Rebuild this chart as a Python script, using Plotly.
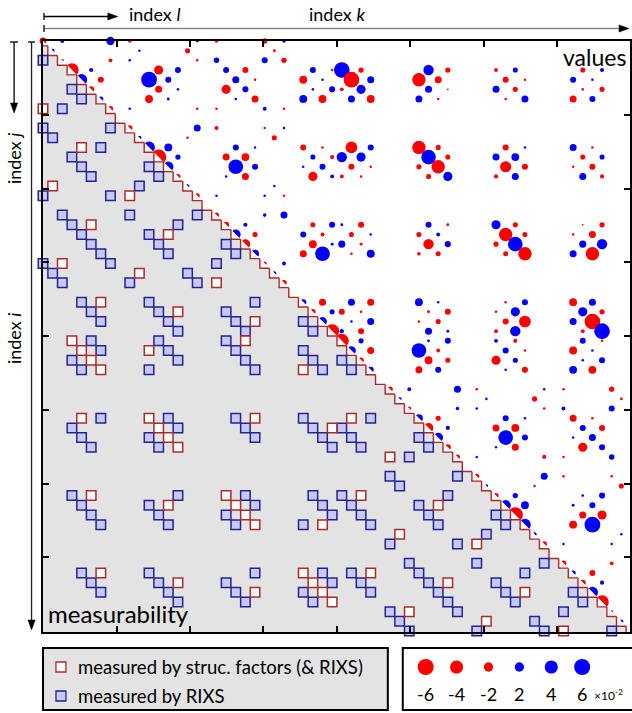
import plotly.graph_objects as go
import math

FONT = "Lato"
N_LAST = 61  # matrix indices run 0..61

# ---------- upper triangle values: (row, col, value in units of 1e-2) ----------
# indices 0..30 amongst themselves
circles_first_half = [
    (0, 0, -1.1), (0, 2, 0.4), (0, 7, 1.6), (0, 9, -0.3), (0, 16, 0.2), (0, 18, -0.3), (0, 23, -0.65), (0, 25, 0.3),
    (1, 1, 0.35), (1, 10, 0.15), (1, 15, -0.6), (1, 24, -0.2),
    (2, 2, -0.2), (2, 7, -0.35), (2, 9, 0.15), (2, 16, -0.15), (2, 18, 0.7), (2, 23, 0.85), (2, 25, -0.65),
    (3, 3, -4.2), (3, 5, 0.4), (3, 12, -1.95), (3, 14, 0.85), (3, 19, 0.85), (3, 21, -0.85), (3, 28, 0.85), (3, 30, -0.15),
    (4, 4, 2.9), (4, 6, -0.85), (4, 11, 5.8), (4, 13, 0.85), (4, 20, 1.15), (4, 22, -0.15), (4, 27, -1.45), (4, 29, 0.15),
    (5, 5, -0.85), (5, 12, -1.15), (5, 14, 0.15), (5, 19, -1.95), (5, 21, 0.85), (5, 28, 0.15), (5, 30, 0.85),
    (6, 6, 0.6), (6, 11, -1.45), (6, 13, 0.2), (6, 20, 0.15), (6, 22, -1.15), (6, 27, 1.45), (6, 29, -1.45),
    (7, 7, -0.7), (7, 9, 0.15), (7, 16, -0.15), (7, 18, -0.15), (7, 23, 0.35), (7, 25, -0.15),
    (9, 9, -0.7), (9, 16, 1.15), (9, 18, -0.4), (9, 23, -0.15), (9, 25, 0.15),
    (10, 10, 0.4), (10, 15, -0.15), (10, 24, -0.6),
    (11, 11, 3.2), (11, 13, 1.45), (11, 20, 0.85), (11, 22, 0.15), (11, 27, -0.85), (11, 29, -0.15),
    (12, 12, -5.4), (12, 14, 0.65), (12, 19, -1.15), (12, 21, -1.45), (12, 28, 0.6), (12, 30, -0.4),
    (13, 13, 2.5), (13, 20, 5.0), (13, 22, 0.85), (13, 27, 0.15), (13, 29, 0.85),
    (14, 14, -0.6), (14, 19, 0.15), (14, 21, -1.15), (14, 28, -1.95), (14, 30, 0.35),
    (15, 15, 0.3), (15, 24, 0.15),
    (16, 16, -0.6), (16, 18, 0.15), (16, 23, 0.15), (16, 25, -0.15),
    (18, 18, -0.6), (18, 23, 0.3), (18, 25, 1.15),
    (19, 19, -0.85), (19, 21, 0.4), (19, 28, -0.6), (19, 30, 0.85),
    (20, 20, 2.2), (20, 22, -0.6), (20, 27, 0.85), (20, 29, -0.35),
    (21, 21, -2.2), (21, 28, -1.45), (21, 30, 0.2),
    (22, 22, 1.45), (22, 27, -1.15), (22, 29, 5.0),
    (23, 23, -0.35), (23, 25, 0.35), (24, 24, 0.35), (25, 25, -0.7),
    (27, 27, 0.85), (27, 29, -1.15), (28, 28, -0.7), (28, 30, 0.6), (29, 29, 1.8), (30, 30, -4.6),
]
# indices 31..61 amongst themselves
circles_second_half = [
    (61, 61, -1.1), (59, 61, 0.4), (54, 61, 1.6), (52, 61, -0.3), (45, 61, 0.2), (43, 61, -0.3), (38, 61, -0.65), (36, 61, 0.3),
    (60, 60, 0.35), (51, 60, 0.15), (46, 60, -0.6), (37, 60, -0.2),
    (59, 59, -0.2), (54, 59, -0.35), (52, 59, 0.15), (45, 59, -0.15), (43, 59, 0.7), (38, 59, 0.85), (36, 59, -0.65),
    (58, 58, -4.2), (56, 58, 0.4), (49, 58, -1.95), (47, 58, 0.85), (42, 58, 0.85), (40, 58, -0.85), (33, 58, 0.85), (31, 58, -0.15),
    (57, 57, 2.9), (55, 57, -0.85), (50, 57, 5.8), (48, 57, 0.85), (41, 57, 1.15), (39, 57, -0.15), (34, 57, -1.45), (32, 57, 0.15),
    (56, 56, -0.85), (49, 56, -1.15), (47, 56, 0.15), (42, 56, -1.95), (40, 56, 0.85), (33, 56, 0.15), (31, 56, 0.85),
    (55, 55, 0.6), (50, 55, -1.45), (48, 55, 0.2), (41, 55, 0.15), (39, 55, -1.15), (34, 55, 1.45), (32, 55, -1.45),
    (54, 54, -0.7), (52, 54, 0.15), (45, 54, -0.15), (43, 54, -0.15), (38, 54, 0.35), (36, 54, -0.15),
    (52, 52, -0.7), (45, 52, 1.15), (43, 52, -0.4), (38, 52, -0.15), (36, 52, 0.15),
    (51, 51, 0.4), (46, 51, -0.15), (37, 51, -0.6),
    (50, 50, 3.2), (48, 50, 1.45), (41, 50, 0.85), (39, 50, 0.15), (34, 50, -0.85), (32, 50, -0.15),
    (49, 49, -5.4), (47, 49, 0.65), (42, 49, -1.15), (40, 49, -1.45), (33, 49, 0.6), (31, 49, -0.4),
    (48, 48, 2.5), (41, 48, 5.0), (39, 48, 0.85), (34, 48, 0.15), (32, 48, 0.85),
    (47, 47, -0.6), (42, 47, 0.15), (40, 47, -1.15), (33, 47, -1.95), (31, 47, 0.35),
    (46, 46, 0.3), (37, 46, 0.15),
    (45, 45, -0.6), (43, 45, 0.15), (38, 45, 0.15), (36, 45, -0.15),
    (43, 43, -0.6), (38, 43, 0.3), (36, 43, 1.15),
    (42, 42, -0.85), (40, 42, 0.4), (33, 42, -0.6), (31, 42, 0.85),
    (41, 41, 2.2), (39, 41, -0.6), (34, 41, 0.85), (32, 41, -0.35),
    (40, 40, -2.2), (33, 40, -1.45), (31, 40, 0.2),
    (39, 39, 1.45), (34, 39, -1.15), (32, 39, 5.0),
    (38, 38, -0.35), (36, 38, 0.35), (37, 37, 0.35), (36, 36, -0.7),
    (34, 34, 0.85), (32, 34, -1.15), (33, 33, -0.7), (31, 33, 0.6), (32, 32, 1.8), (31, 31, -4.6),
]
# rows 0..30 against columns 31..61
circles_cross = [
    (3, 31, 5.7), (3, 33, -0.65), (4, 32, -5.7), (4, 34, 1.15), (5, 31, -0.35), (5, 33, 1.95), (6, 32, 1.15), (6, 34, -1.45),
    (3, 40, 2.5), (3, 42, -0.65), (4, 39, -4.2), (4, 41, -1.15), (5, 40, 1.15), (5, 42, -0.07), (6, 39, 1.15), (6, 41, -0.15),
    (3, 47, -0.35), (3, 49, 0.6), (4, 48, -0.85), (4, 50, -0.15), (5, 47, 1.15), (5, 49, -0.6), (6, 48, -0.15), (6, 50, 1.15),
    (3, 56, -0.6), (3, 58, 0.4), (4, 55, 0.85), (4, 57, 0.15), (5, 56, -0.15), (5, 58, -0.6), (6, 55, -1.15), (6, 57, 0.85),
    (11, 32, -3.2), (11, 34, 0.85), (12, 31, 2.5), (12, 33, 1.95), (13, 32, -0.85), (13, 34, -0.15), (14, 31, -0.35), (14, 33, -0.15),
    (11, 39, -4.2), (11, 41, -0.6), (12, 40, 5.0), (12, 42, -0.6), (13, 39, -0.6), (13, 41, -4.2), (14, 40, -0.6), (14, 42, 1.95),
    (11, 48, -0.85), (11, 50, 0.15), (12, 47, 1.15), (12, 49, 1.45), (13, 48, -2.9), (13, 50, -0.85), (14, 47, -0.4), (14, 49, 1.15),
    (11, 55, 1.15), (11, 57, -0.15), (12, 56, -0.6), (12, 58, 0.6), (13, 55, -0.15), (13, 57, -0.85), (14, 56, 1.15), (14, 58, -0.4),
    (19, 31, 0.2), (19, 33, -0.85), (20, 32, -0.6), (20, 34, 0.15), (21, 31, 1.15), (21, 33, -0.2), (22, 32, -0.15), (22, 34, 1.45),
    (19, 40, 0.85), (19, 42, -0.2), (20, 39, -0.6), (20, 41, 0.35), (21, 40, -2.5), (21, 42, 0.85), (22, 39, -0.3), (22, 41, -0.6),
    (19, 47, 1.95), (19, 49, -0.6), (20, 48, -4.2), (20, 50, -0.6), (21, 47, -0.6), (21, 49, 5.0), (22, 48, -0.6), (22, 50, -4.2),
    (19, 56, -0.07), (19, 58, -0.65), (20, 55, -0.15), (20, 57, -1.15), (21, 56, 1.15), (21, 58, 2.5), (22, 55, 1.15), (22, 57, -4.2),
    (27, 32, 1.15), (27, 34, -1.15), (28, 31, -0.85), (28, 33, -0.15), (29, 32, 0.15), (29, 34, 1.15), (30, 31, 0.4), (30, 33, -0.85),
    (27, 39, 1.45), (27, 41, 0.15), (28, 40, -0.2), (28, 42, -0.85), (29, 39, -0.15), (29, 41, -0.6), (30, 40, 1.15), (30, 42, 0.2),
    (27, 48, -0.15), (27, 50, 0.85), (28, 47, -0.15), (28, 49, 1.95), (29, 48, -0.85), (29, 50, -3.2), (30, 47, -0.35), (30, 49, 2.5),
    (27, 55, -1.45), (27, 57, 1.15), (28, 56, 1.95), (28, 58, -0.65), (29, 55, 1.15), (29, 57, -5.7), (30, 56, -0.35), (30, 58, 5.7),
]

# ---------- lower triangle: measurability (row, col) ----------
sf_squares = [  # measured by structure factors (& RIXS)
    (7, 0), (16, 9), (23, 2), (25, 18), (15, 1), (24, 10), (11, 4), (19, 5), (20, 13), (27, 6), (28, 14), (29, 22),
    (61, 54), (52, 45), (59, 38), (43, 36), (60, 46), (51, 37), (57, 50), (56, 42), (48, 41), (55, 34), (47, 33), (39, 32),
    (31, 3), (32, 4), (33, 5), (34, 6), (32, 11), (31, 21), (34, 27), (39, 4), (39, 11), (40, 12), (41, 13), (42, 14),
    (39, 22), (40, 30), (47, 5), (48, 13), (47, 19), (48, 20), (49, 21), (50, 22), (50, 29), (55, 6), (56, 14), (57, 22),
    (58, 30), (57, 29), (56, 28), (55, 27),
]
rixs_squares = [  # measured by RIXS
    (2, 0), (7, 2), (9, 0), (9, 7), (16, 0), (16, 7), (18, 2), (18, 9), (18, 16), (23, 0), (23, 7), (23, 18),
    (25, 2), (25, 9), (25, 16), (10, 1), (15, 10), (24, 1), (24, 15),
    (5, 3), (6, 4), (13, 11), (14, 12), (21, 19), (22, 20), (29, 27), (30, 28),
    (11, 6), (12, 3), (13, 4), (14, 5), (19, 3), (20, 4), (21, 5), (22, 6), (19, 14), (20, 11), (21, 12), (22, 13),
    (27, 4), (28, 5), (29, 6), (27, 11), (28, 12), (29, 13), (30, 14), (27, 22), (28, 19), (29, 20), (30, 21),
    (61, 59), (59, 54), (61, 52), (54, 52), (61, 45), (54, 45), (59, 43), (52, 43), (45, 43), (61, 38), (54, 38),
    (43, 38), (59, 36), (52, 36), (45, 36), (60, 51), (51, 46), (60, 37), (46, 37),
    (58, 56), (57, 55), (50, 48), (49, 47), (42, 40), (41, 39), (34, 32), (33, 31),
    (55, 50), (58, 49), (57, 48), (56, 47), (58, 42), (57, 41), (56, 40), (55, 39), (47, 42), (50, 41), (49, 40), (48, 39),
    (57, 34), (56, 33), (55, 32), (50, 34), (49, 33), (48, 32), (47, 31), (39, 34), (42, 33), (41, 32), (40, 31),
    (31, 5), (32, 6), (33, 3), (34, 4), (31, 12), (32, 13), (33, 14), (34, 11), (31, 19), (32, 20), (33, 21), (34, 22),
    (32, 27), (33, 28), (34, 29), (39, 6), (40, 3), (41, 4), (42, 5), (39, 13), (40, 14), (41, 11), (42, 12),
    (39, 20), (40, 21), (41, 22), (42, 30), (41, 29), (40, 28), (39, 27),
    (47, 3), (48, 4), (49, 5), (50, 6), (47, 14), (48, 11), (49, 12), (50, 13), (47, 21), (48, 22), (49, 19), (50, 20),
    (49, 30), (48, 29), (47, 28), (50, 27), (55, 4), (56, 5), (57, 6), (55, 11), (56, 12), (57, 13), (58, 14),
    (55, 22), (58, 21), (57, 20), (56, 19), (56, 30), (55, 29), (58, 28), (57, 27),
]
legend_values = [-6, -4, -2, 2, 4, 6]

RED = "#ff0000"
BLUE = "#0000ff"
SF_LINE = "#ad2a2a"
RIXS_LINE = "#24248e"
RIXS_FILL = "#c8c8f6"
GRAY = "#e3e3e3"


def diam(v):
    return 6.55 * math.sqrt(abs(v))


circles = circles_first_half + circles_second_half + circles_cross
fig = go.Figure()
fig.add_trace(go.Scatter(
    x=[c for r, c, v in circles], y=[r for r, c, v in circles], mode="markers", cliponaxis=False,
    marker=dict(size=[diam(v) for r, c, v in circles], opacity=1,
                color=[RED if v < 0 else BLUE for r, c, v in circles], line=dict(width=0)),
    hoverinfo="skip"))

# gray lower triangle
fig.add_trace(go.Scatter(x=[0, 0, 62, 0], y=[0, 62, 62, 0], mode="lines", fill="toself",
                         fillcolor=GRAY, line=dict(width=0), hoverinfo="skip"))

# diagonal half cells
dx, dy = [], []
for i in range(N_LAST + 1):
    dx += [i - 0.5, i - 0.5, i + 0.5, None]
    dy += [i - 0.5, i + 0.5, i + 0.5, None]
fig.add_trace(go.Scatter(x=dx, y=dy, mode="lines", fill="toself", fillcolor="white",
                         line=dict(color=SF_LINE, width=1.4), cliponaxis=False, hoverinfo="skip"))

fig.add_trace(go.Scatter(x=[c for r, c in rixs_squares], y=[r for r, c in rixs_squares], mode="markers",
                         cliponaxis=False, hoverinfo="skip",
                         marker=dict(symbol="square", size=9.5, color=RIXS_FILL, opacity=1,
                                     line=dict(color=RIXS_LINE, width=1.5))))
fig.add_trace(go.Scatter(x=[c for r, c in sf_squares], y=[r for r, c in sf_squares], mode="markers",
                         cliponaxis=False, hoverinfo="skip",
                         marker=dict(symbol="square", size=9.5, color="white", opacity=1,
                                     line=dict(color=SF_LINE, width=1.5))))

ticks = [N_LAST / 8 * k for k in range(9)]
axis_common = dict(showline=True, linecolor="black", linewidth=2, mirror="ticks", ticks="inside",
                   ticklen=6, tickwidth=2, tickcolor="black", tickvals=ticks, showticklabels=False,
                   showgrid=False, zeroline=False, layer="above traces")
fig.update_xaxes(range=[0, 60.9], **axis_common)
fig.update_yaxes(range=[61.1, 0], **axis_common)

L, R, T, B = 43, 632, 41, 632


def px(x):
    return (x - L) / (R - L)


def py(y):
    return (B - y) / (B - T)


shapes = []
annotations = []


def line(x0, y0, x1, y1, color="black", w=1.3):
    shapes.append(dict(type="line", xref="paper", yref="paper", x0=px(x0), x1=px(x1), y0=py(y0), y1=py(y1),
                       line=dict(color=color, width=w)))


def head(xh, yh, direction, color="black", ln=10, hw=3.6):
    if direction == "right":
        pts = [(xh, yh), (xh - ln, yh - hw), (xh - ln, yh + hw)]
    else:  # down
        pts = [(xh, yh), (xh - hw, yh - ln), (xh + hw, yh - ln)]
    path = "M " + " L ".join(f"{px(a):.5f},{py(b):.5f}" for a, b in pts) + " Z"
    shapes.append(dict(type="path", xref="paper", yref="paper", path=path, fillcolor=color,
                       line=dict(color=color, width=0.5)))


# top arrows
line(44, 16.5, 112, 16.5)
head(118, 16.5, "right")
line(44, 13, 44, 20)
line(44, 28.5, 624, 28.5, color="#8a8a8a", w=1.6)
head(631, 28.5, "right")
line(44, 25, 44, 32)
# left arrows
line(14, 42, 14, 106)
head(14, 113, "down")
line(10, 42, 18, 42)
line(31.5, 42, 31.5, 623, color="#222222")
head(31.5, 630, "down")
line(28, 42, 35, 42)

txt = dict(family=FONT, color="black")


def text(x, y, s, size, xanchor="center", angle=0):
    annotations.append(dict(x=px(x), y=py(y), xref="paper", yref="paper", xanchor=xanchor, yanchor="middle",
                            text=s, showarrow=False, textangle=angle, font=dict(size=size, **txt)))


text(127, 14, "index <i>l</i>", 18, "left")
text(338, 14, "index <i>k</i>", 18)
text(14, 158, "index <i>j</i>", 18, angle=-90)
text(14, 338, "index <i>i</i>", 18, angle=-90)
text(630, 57, "values", 23, "right")
text(46, 613, "measurability", 24, "left")

# legend boxes
shapes.append(dict(type="rect", xref="paper", yref="paper", x0=px(43), x1=px(389), y0=py(710), y1=py(648),
                   fillcolor=GRAY, line=dict(color="black", width=2)))
shapes.append(dict(type="rect", xref="paper", yref="paper", x0=px(404), x1=px(660), y0=py(710), y1=py(648),
                   fillcolor="white", line=dict(color="black", width=2)))
for yy, fillc, linec, label in [(667, "white", SF_LINE, "measured by struc. factors (&amp; RIXS)"),
                                (696, RIXS_FILL, RIXS_LINE, "measured by RIXS")]:
    shapes.append(dict(type="rect", xref="paper", yref="paper", x0=px(56), x1=px(66), y0=py(yy + 5), y1=py(yy - 5),
                       fillcolor=fillc, line=dict(color=linec, width=1.3)))
    text(76, yy, label, 18.5, "left")

leg_x = [427, 458, 490, 521, 553, 584]
for v, xx in zip(legend_values, leg_x):
    d = diam(v)
    shapes.append(dict(type="circle", xref="paper", yref="paper", xsizemode="pixel", ysizemode="pixel",
                       xanchor=px(xx), yanchor=py(667), x0=-d / 2, x1=d / 2, y0=-d / 2, y1=d / 2,
                       fillcolor=RED if v < 0 else BLUE, line=dict(width=0)))
    text(xx, 694, str(v), 18)
text(594, 695, "×10<sup>-2</sup>", 12, "left")

fig.update_layout(width=632, height=713, margin=dict(l=L, r=632 - R, t=T, b=713 - B),
                  paper_bgcolor="white", plot_bgcolor="white", showlegend=False,
                  shapes=shapes, annotations=annotations)
fig.write_html("out.html")
